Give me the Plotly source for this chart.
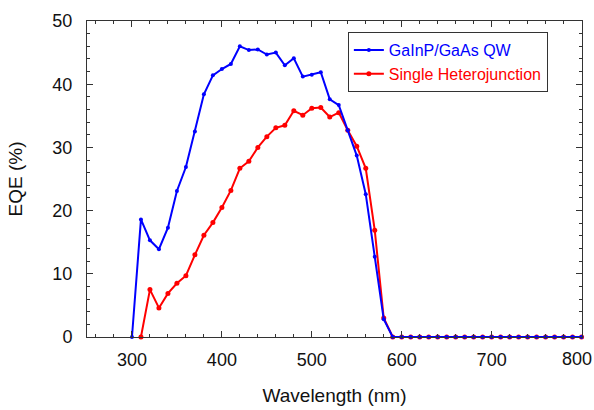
import plotly.graph_objects as go

wl_blue = list(range(300, 810, 10))
eqe_blue = [0, 18.6, 15.3, 13.9, 17.3, 23.1, 26.9, 32.5, 38.4, 41.4, 42.4, 43.2, 46.0,
            45.4, 45.5, 44.7, 45.0, 43.0, 44.1, 41.2, 41.5, 41.9, 37.6, 36.7, 32.7,
            28.7, 22.6, 12.7, 2.8] + [0] * 22

wl_red = list(range(310, 810, 10))
eqe_red = [0, 7.5, 4.6, 6.9, 8.5, 9.7, 13.0, 16.1, 18.1, 20.5, 23.2, 26.7, 27.8, 30.0,
           31.7, 33.1, 33.5, 35.8, 35.1, 36.2, 36.3, 34.8, 35.5, 32.7, 30.2, 26.7,
           16.9, 3.0] + [0] * 22

x_tickvals = [300, 400, 500, 600, 700, 800]
x_ticktext = ["300", "400", "500", "600", "700", "800"]
y_tickvals = [0, 10, 20, 30, 40, 50]

name_blue = "GaInP/GaAs QW"
name_red = "Single Heterojunction"
BLUE = "#0000FF"
RED = "#FF0000"
FONT = "Liberation Sans, Arial"

fig = go.Figure()
fig.add_trace(go.Scatter(
    x=wl_red, y=eqe_red, mode="lines+markers",
    name=f"<span style='color:{RED}'>{name_red}</span>",
    line=dict(color=RED, width=2), marker=dict(color=RED, size=5),
    cliponaxis=False,
))
fig.add_trace(go.Scatter(
    x=wl_blue, y=eqe_blue, mode="lines+markers",
    name=f"<span style='color:{BLUE}'>{name_blue}</span>",
    line=dict(color=BLUE, width=2), marker=dict(color=BLUE, size=4),
    cliponaxis=False,
))

axis_common = dict(
    showgrid=False, zeroline=False, showline=True, linecolor="#333333", linewidth=1,
    mirror="ticks", ticks="inside", ticklen=6, tickcolor="#333333",
    tickfont=dict(family=FONT, size=18, color="#111111"),
    minor=dict(ticks="inside", ticklen=3, tickcolor="#333333"),
    automargin=False,
)

# last x tick label is nudged left to stay inside the picture, as in the original
shown_ticktext = x_ticktext[:-1] + [""]

fig.update_layout(
    width=594, height=410,
    margin=dict(l=87, r=12, t=21, b=73),
    paper_bgcolor="white", plot_bgcolor="white",
    font=dict(family=FONT, size=16, color="#111111"),
    xaxis=dict(range=[250, 800.5], tickvals=x_tickvals, ticktext=shown_ticktext,
               title=dict(text="Wavelength (nm)", font=dict(size=19), standoff=20),
               minor_dtick=20, ticklabelstandoff=6, **axis_common),
    yaxis=dict(range=[0, 50], tickvals=y_tickvals,
               title=dict(text="EQE (%)", font=dict(size=19), standoff=24),
               minor_dtick=2, ticklabelstandoff=10, **axis_common),
    legend=dict(x=0.527, y=0.965, xanchor="left", yanchor="top",
                bordercolor="#333333", borderwidth=1, bgcolor="white",
                traceorder="reversed", font=dict(size=16),
                tracegroupgap=0, itemwidth=30),
    showlegend=True,
    annotations=[dict(
        x=x_tickvals[-1], xref="x", y=0, yref="paper",
        text=x_ticktext[-1], showarrow=False,
        xanchor="right", yanchor="middle", xshift=12, yshift=-22,
        font=dict(family=FONT, size=18, color="#111111"),
    )],
)

fig.write_html("out.html", config={"displayModeBar": False},
               post_script="document.body.style.margin='0';")
